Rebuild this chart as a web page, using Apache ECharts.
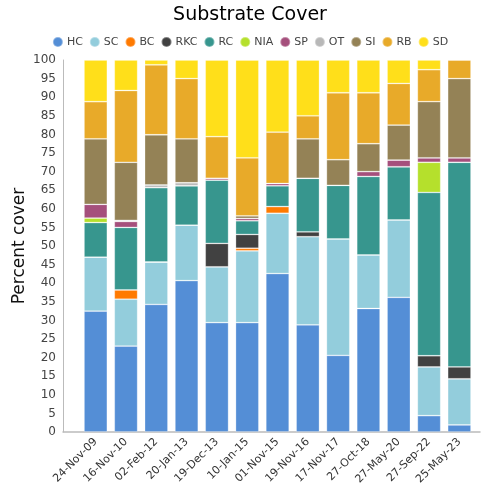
<!DOCTYPE html>
<html><head><meta charset="utf-8">
<script src="https://cdn.jsdelivr.net/npm/echarts@6/dist/echarts.min.js"></script>
<style>html,body{margin:0;padding:0;background:#fff}#c{width:500px;height:500px}</style>
</head><body><div id="c"></div>
<script>
const categories = ['24-Nov-09','16-Nov-10','02-Feb-12','20-Jan-13','19-Dec-13','10-Jan-15','01-Nov-15','19-Nov-16','17-Nov-17','27-Oct-18','27-May-20','27-Sep-22','25-May-23'];
const HC  = [32.5, 23.1, 34.3, 40.7, 29.4, 29.4, 42.6, 28.8, 20.6, 33.2, 36.2, 4.4, 1.9];
const SC  = [14.5, 12.6, 11.4, 14.9, 15.0, 19.3, 16.2, 23.7, 31.3, 14.4, 20.8, 13.1, 12.4];
const BC  = [0, 2.5, 0, 0, 0, 0.7, 1.8, 0, 0, 0, 0, 0, 0];
const RKC = [0, 0, 0, 0, 6.3, 3.7, 0, 1.3, 0, 0, 0, 3.0, 3.2];
const RC  = [9.3, 16.8, 20.0, 10.6, 17.0, 3.7, 5.6, 14.4, 14.4, 21.1, 14.3, 43.9, 55.0];
const NIA = [1.2, 0, 0, 0, 0, 0, 0, 0, 0, 0, 0, 8.1, 0];
const SP  = [3.7, 1.6, 0, 0, 0.5, 0.6, 0.6, 0, 0, 1.3, 1.8, 1.2, 1.2];
const OT  = [0, 0.3, 0.7, 0.8, 0, 0, 0, 0, 0, 0, 0, 0, 0];
const SI  = [17.6, 15.6, 13.5, 11.8, 0, 0.7, 0, 10.6, 6.9, 7.5, 9.4, 15.1, 21.3];
const RB  = [10.0, 19.3, 18.8, 16.2, 11.2, 15.6, 13.8, 6.2, 18.0, 13.7, 11.2, 8.6, 5.0];
const SD  = [11.2, 8.2, 1.3, 5.0, 20.6, 26.3, 19.4, 15.0, 8.8, 8.8, 6.3, 2.6, 0];
const yTicks = [0,5,10,15,20,25,30,35,40,45,50,55,60,65,70,75,80,85,90,95,100];

const seriesDefs = [
  ['HC', HC, '#548ed6'],
  ['SC', SC, '#93cddc'],
  ['BC', BC, '#ff7a00'],
  ['RKC', RKC, '#414141'],
  ['RC', RC, '#37968e'],
  ['NIA', NIA, '#b5e02c'],
  ['SP', SP, '#a54f7c'],
  ['OT', OT, '#b8b8b8'],
  ['SI', SI, '#948256'],
  ['RB', RB, '#e8aa29'],
  ['SD', SD, '#ffdf1a']
];

const chart = echarts.init(document.getElementById('c'), null, {renderer:'canvas'});
chart.setOption({
  animation: false,
  title: { text: 'Substrate Cover', left: 'center', top: 1,
    textStyle: { fontSize: 19, fontWeight: 'normal', color: '#000', fontFamily: 'DejaVu Sans' } },
  legend: {
    top: 31, left: 'center', icon: 'circle', itemWidth: 10, itemHeight: 10, itemGap: 6,
    textStyle: { fontSize: 11, color: '#444', fontFamily: 'DejaVu Sans', padding: [0, 0, 0, -1] },
    data: seriesDefs.map(d => d[0])
  },
  grid: [
    { left: 80.5, right: 25.5, top: 60, bottom: 68 },
    { left: 63, right: 20, top: 60, bottom: 68 }
  ],
  xAxis: [
    { type: 'category', data: categories, gridIndex: 0,
      axisLine: { show: false }, axisTick: { show: false },
      axisLabel: { rotate: 45, fontSize: 11, color: '#333', fontFamily: 'DejaVu Sans', margin: 8, interval: 0 } },
    { type: 'category', data: categories, gridIndex: 1,
      axisLine: { show: true, lineStyle: { color: '#bbb', width: 1.5 } }, axisTick: { show: false },
      axisLabel: { show: false } }
  ],
  yAxis: [
    { type: 'value', gridIndex: 0, min: 0, max: 100, interval: 5, show: false, splitLine: { show: false } },
    { type: 'value', gridIndex: 1, min: 0, max: 100, interval: 5,
      name: 'Percent cover', nameLocation: 'middle', nameGap: 35, nameMoveOverlap: false,
      nameTextStyle: { fontSize: 17, color: '#111', fontFamily: 'DejaVu Sans' },
      axisLine: { show: true, lineStyle: { color: '#bbb', width: 1 } }, axisTick: { show: false },
      splitLine: { show: false },
      axisLabel: { fontSize: 12, color: '#444', fontFamily: 'DejaVu Sans', margin: 7 } }
  ],
  series: seriesDefs.map(d => ({
    name: d[0], type: 'bar', stack: 'total', xAxisIndex: 0, yAxisIndex: 0,
    barWidth: '77%', data: d[1],
    itemStyle: { color: d[2], borderColor: 'rgba(255,255,255,0.35)', borderWidth: 0.8 }
  }))
});
</script></body></html>
